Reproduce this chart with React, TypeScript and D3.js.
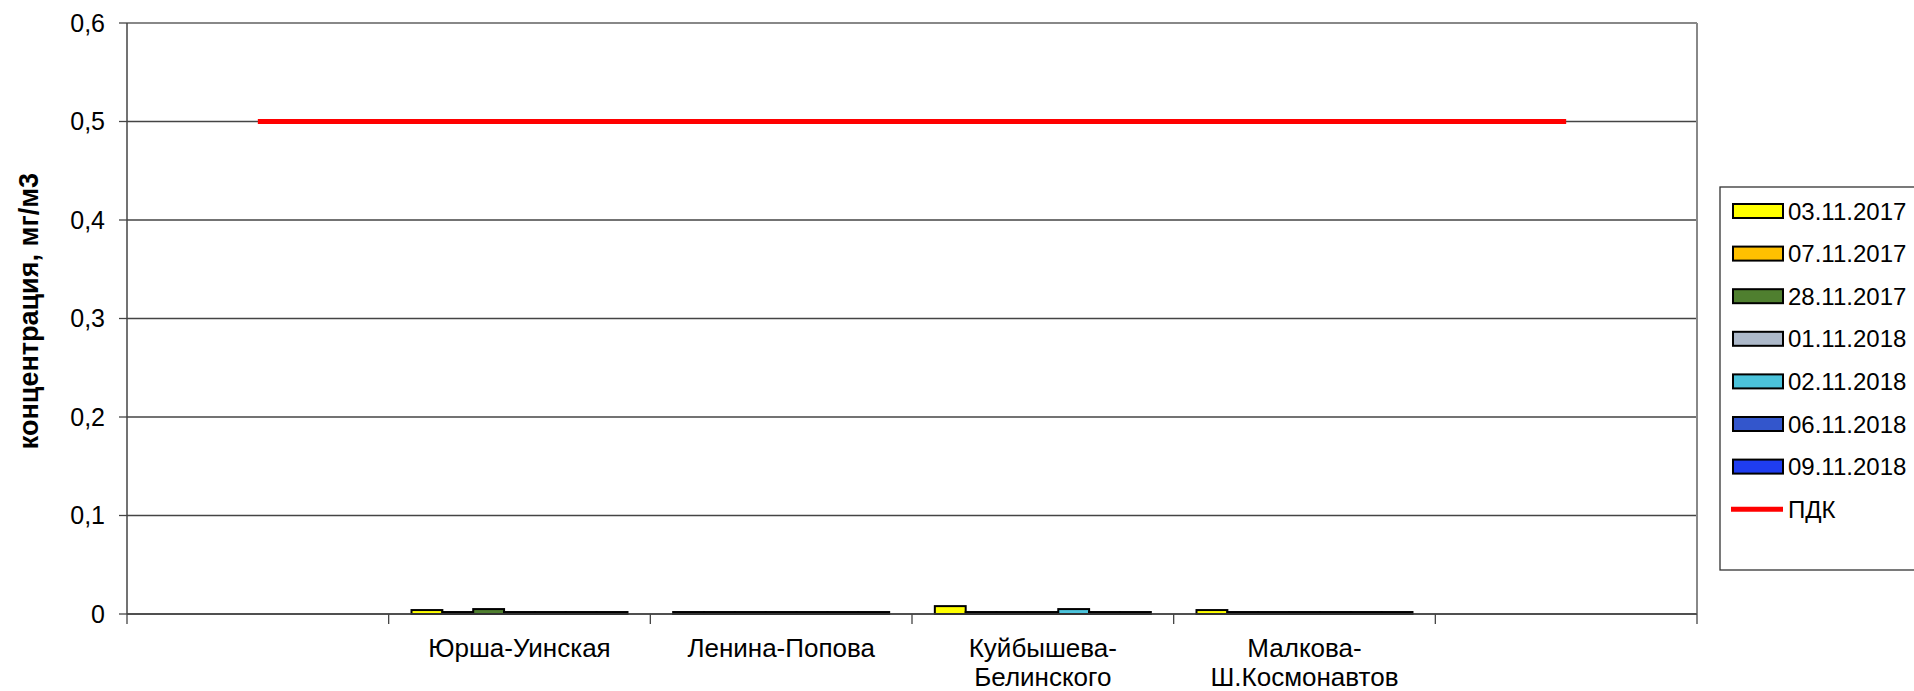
import React from 'react';
import * as d3 from 'd3';

// categories (first and last are empty slots, as in the source chart)
const categories = ['', 'Юрша-Уинская', 'Ленина-Попова', 'Куйбышева-Белинского', 'Малкова-Ш.Космонавтов', ''];
const categoryLines = [[], ['Юрша-Уинская'], ['Ленина-Попова'], ['Куйбышева-', 'Белинского'], ['Малкова-', 'Ш.Космонавтов'], []];

const seriesNames = ['03.11.2017', '07.11.2017', '28.11.2017', '01.11.2018', '02.11.2018', '06.11.2018', '09.11.2018'];
const seriesColors = ['#FFFF00', '#FFC000', '#4F7F2F', '#ADB9CA', '#4BC3DB', '#3356CC', '#1F3DF0'];

// values for each series over the categories (null = no data)
const s0311_2017 = [null, 0.004, 0.002, 0.008, 0.004, null];
const s0711_2017 = [null, 0.002, 0.002, 0.002, 0.002, null];
const s2811_2017 = [null, 0.005, 0.002, 0.002, 0.002, null];
const s0111_2018 = [null, 0.002, 0.002, 0.002, 0.002, null];
const s0211_2018 = [null, 0.002, 0.002, 0.005, 0.002, null];
const s0611_2018 = [null, 0.002, 0.002, 0.002, 0.002, null];
const s0911_2018 = [null, 0.002, 0.002, 0.002, 0.002, null];
const seriesValues = [s0311_2017, s0711_2017, s2811_2017, s0111_2018, s0211_2018, s0611_2018, s0911_2018];

const pdk = [0.5, 0.5, 0.5, 0.5, 0.5, 0.5];
const yTicks = [0, 0.1, 0.2, 0.3, 0.4, 0.5, 0.6];

const FONT = '"Liberation Sans", Arial, sans-serif';

const App = () => {
  const width = 1914;
  const height = 691;
  const left = 127, right = 1697, top = 23, bottom = 614;

  const idx = categories.map((_, i) => String(i));
  const x0 = d3.scaleBand().domain(idx).range([left, right]).paddingInner(0).paddingOuter(0);
  const x1 = d3.scaleBand().domain(seriesNames).range([0, x0.bandwidth()]).paddingInner(0).paddingOuter(0.74);
  const y = d3.scaleLinear().domain([0, 0.6]).range([bottom, top]);
  const fmt = (v) => (v === 0 ? '0' : d3.format('.1f')(v).replace('.', ','));

  const line = d3.line<number>()
    .x((_, i) => (x0(String(i)) as number) + x0.bandwidth() / 2)
    .y((d) => y(d));

  const legendX = 1720, legendY = 187, rowH = 42.6;

  return (
    <svg width={width} height={height} style={{ position: 'absolute', left: 0, top: 0, background: '#fff' }}>
      <rect x={0} y={0} width={width} height={height} fill="#fff" />
      {/* gridlines */}
      {yTicks.map((t) => (
        <line key={t} x1={left} x2={right} y1={y(t)} y2={y(t)} stroke={t === 0.6 ? '#888' : '#444'} strokeWidth={t === 0.6 ? 2 : 1.3} />
      ))}
      <line x1={right} x2={right} y1={top} y2={bottom} stroke="#888" strokeWidth={2} />
      {/* y axis */}
      <line x1={left} x2={left} y1={top} y2={bottom} stroke="#444" strokeWidth={1.5} />
      {yTicks.map((t) => (
        <g key={'yt' + t}>
          <line x1={left - 8} x2={left} y1={y(t)} y2={y(t)} stroke="#444" strokeWidth={1.3} />
          <text x={105} y={y(t)} dy="0.35em" textAnchor="end" fontFamily={FONT} fontSize={25}>{fmt(t)}</text>
        </g>
      ))}
      <text transform={`translate(38,311) rotate(-90)`} textAnchor="middle" fontFamily={FONT} fontSize={27} fontWeight="bold">
        концентрация, мг/м3
      </text>
      {/* bars */}
      {categories.map((c, ci) => (
        <g key={'c' + ci} transform={`translate(${x0(String(ci))},0)`}>
          {seriesNames.map((s, si) => {
            const v = seriesValues[si][ci];
            if (v == null) return null;
            return (
              <rect key={s} x={x1(s)} y={y(v)} width={x1.bandwidth()} height={y(0) - y(v)}
                fill={seriesColors[si]} stroke="#000" strokeWidth={2} />
            );
          })}
        </g>
      ))}
      {/* x axis */}
      <line x1={left} x2={right} y1={bottom} y2={bottom} stroke="#444" strokeWidth={1.3} />
      {idx.concat([String(categories.length)]).map((k, i) => {
        const xx = i < categories.length ? (x0(k) as number) : right;
        return <line key={'xt' + i} x1={xx} x2={xx} y1={bottom} y2={bottom + 10} stroke="#444" strokeWidth={1.3} />;
      })}
      {categoryLines.map((lines, ci) => (
        <text key={'xl' + ci} textAnchor="middle" fontFamily={FONT} fontSize={26}>
          {lines.map((l, li) => (
            <tspan key={li} x={(x0(String(ci)) as number) + x0.bandwidth() / 2} y={657 + li * 29}>{l}</tspan>
          ))}
        </text>
      ))}
      {/* ПДК */}
      <path d={line(pdk) || ''} fill="none" stroke="#FF0000" strokeWidth={5} />
      {/* legend */}
      <rect x={legendX} y={legendY} width={230} height={383} fill="#fff" stroke="#333" strokeWidth={1.3} />
      {seriesNames.map((s, si) => (
        <g key={'lg' + s} transform={`translate(${legendX + 13},${legendY + 24 + si * rowH})`}>
          <rect x={0} y={-7} width={50} height={14} fill={seriesColors[si]} stroke="#000" strokeWidth={2} />
          <text x={55} y={0} dy="0.36em" fontFamily={FONT} fontSize={24}>{s}</text>
        </g>
      ))}
      <g transform={`translate(${legendX + 13},${legendY + 24 + 7 * rowH})`}>
        <line x1={-2} x2={50} y1={0} y2={0} stroke="#FF0000" strokeWidth={5} />
        <text x={55} y={0} dy="0.36em" fontFamily={FONT} fontSize={24}>ПДК</text>
      </g>
    </svg>
  );
};

export default App;
